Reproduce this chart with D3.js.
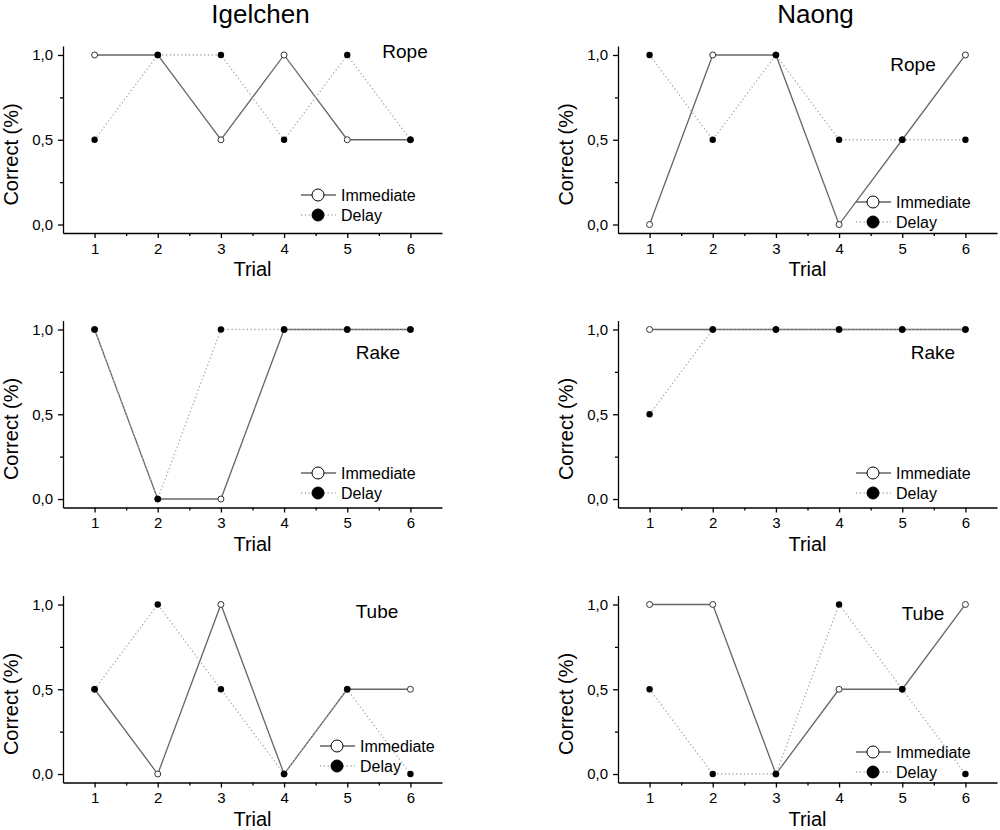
<!DOCTYPE html>
<html lang="en">
<head>
<meta charset="UTF-8">
<title>Correct (%) by trial</title>
<script src="https://d3js.org/d3.v7.min.js"></script>
<style>
  body { margin: 0; background: #fff; }
  svg { display: block; font-family: Arial, "Liberation Sans", sans-serif; }
  .axis path, .axis line { stroke: #000; stroke-width: 1.3; }
  .axis text { font-size: 15px; fill: #000; font-family: Arial, "Liberation Sans", sans-serif; }
</style>
</head>
<body>
<div id="chart"></div>
<script>
// --- data ---
const subjects = ["Igelchen", "Naong"];
const tools = ["Rope", "Rake", "Tube"];
const trials = [1, 2, 3, 4, 5, 6];
const seriesNames = ["Immediate", "Delay"];
const yTicks = [0, 0.5, 1];

// values per [subject][tool]
const immediate = {
  Igelchen: { Rope: [1, 1, 0.5, 1, 0.5, 0.5], Rake: [1, 0, 0, 1, 1, 1], Tube: [0.5, 0, 1, 0, 0.5, 0.5] },
  Naong:    { Rope: [0, 1, 1, 0, 0.5, 1],     Rake: [1, 1, 1, 1, 1, 1], Tube: [1, 1, 0, 0.5, 0.5, 1] }
};
const delay = {
  Igelchen: { Rope: [0.5, 1, 1, 0.5, 1, 0.5], Rake: [1, 0, 1, 1, 1, 1], Tube: [0.5, 1, 0.5, 0, 0.5, 0] },
  Naong:    { Rope: [1, 0.5, 1, 0.5, 0.5, 0.5], Rake: [0.5, 1, 1, 1, 1, 1], Tube: [0.5, 0, 0, 1, 0.5, 0] }
};

// --- layout ---
const width = 1000, height = 830;
const colX = [63, 618];          // left edge of each column's plot
const plotW = 379;
const rowTop = [46, 320.5, 595.5]; // top of each row's plot
const plotH = 187;
// label / legend offsets per [col][row], relative to plot left/top
const labelPos = [
  [{ x: 342, y: 12 }, { x: 315, y: 38.5 }, { x: 314, y: 22.5 }],
  [{ x: 295, y: 25 }, { x: 315, y: 38.5 }, { x: 305, y: 24.5 }]
];
const legendPos = [
  [{ x: 255, y: 149 }, { x: 255, y: 152.5 }, { x: 274, y: 150.5 }],
  [{ x: 255, y: 156 }, { x: 255, y: 152.5 }, { x: 255, y: 156.5 }]
];

const solidColor = "#666";
const dotColor = "#aaa";

const svg = d3.select("#chart").append("svg")
  .attr("width", width)
  .attr("height", height);

// column titles
subjects.forEach((s, ci) => {
  svg.append("text")
    .attr("x", colX[ci] + plotW / 2 + 8)
    .attr("y", 23)
    .attr("text-anchor", "middle")
    .attr("font-size", 26)
    .text(s);
});

subjects.forEach((subj, ci) => {
  tools.forEach((tool, ri) => {
    const g = svg.append("g")
      .attr("transform", `translate(${colX[ci]},${rowTop[ri]})`);

    const x = d3.scaleLinear().domain([0.5, 6.5]).range([0, plotW]);
    const y = d3.scaleLinear().domain([-0.05, 1.053]).range([plotH, 0]);

    // x axis: major at trials, minor at halves
    g.append("g")
      .attr("class", "axis")
      .attr("transform", `translate(0,${plotH})`)
      .call(d3.axisBottom(x).tickValues(trials).tickSize(5).tickSizeOuter(0).tickPadding(5).tickFormat(d3.format("d")));
    g.append("g")
      .attr("class", "axis")
      .attr("transform", `translate(0,${plotH})`)
      .call(d3.axisBottom(x).tickValues(d3.range(1.5, 6.5, 1)).tickSize(3).tickSizeOuter(0).tickFormat(""))
      .select(".domain").remove();

    // y axis
    const fmt = d => d3.format(".1f")(d).replace(".", ",");
    g.append("g")
      .attr("class", "axis")
      .call(d3.axisLeft(y).tickValues(yTicks).tickSize(5).tickSizeOuter(0).tickPadding(5).tickFormat(fmt));
    g.append("g")
      .attr("class", "axis")
      .call(d3.axisLeft(y).tickValues([0.25, 0.75]).tickSize(3).tickSizeOuter(0).tickFormat(""))
      .select(".domain").remove();

    // axis titles
    g.append("text")
      .attr("transform", `translate(-52,${plotH / 2 + 15}) rotate(-90)`)
      .attr("text-anchor", "middle")
      .attr("dy", "0.35em")
      .attr("font-size", 20)
      .text("Correct (%)");
    g.append("text")
      .attr("x", plotW / 2)
      .attr("y", plotH + 43)
      .attr("text-anchor", "middle")
      .attr("font-size", 20)
      .text("Trial");

    // panel label
    const lp = labelPos[ci][ri];
    g.append("text")
      .attr("x", lp.x)
      .attr("y", lp.y)
      .attr("text-anchor", "middle")
      .attr("font-size", 19)
      .text(tool);

    const line = d3.line()
      .x((d, i) => x(trials[i]))
      .y(d => y(d));

    const imm = immediate[subj][tool];
    const del = delay[subj][tool];

    g.append("path")
      .datum(imm)
      .attr("d", line)
      .attr("fill", "none")
      .attr("stroke", solidColor)
      .attr("stroke-width", 1.3);
    g.append("path")
      .datum(del)
      .attr("d", line)
      .attr("fill", "none")
      .attr("stroke", dotColor)
      .attr("stroke-width", 1.3)
      .attr("stroke-dasharray", "1.3,2.5");

    g.selectAll(".imm").data(imm).join("circle")
      .attr("class", "imm")
      .attr("cx", (d, i) => x(trials[i]))
      .attr("cy", d => y(d))
      .attr("r", 3)
      .attr("fill", "#fff")
      .attr("stroke", "#333")
      .attr("stroke-width", 1);
    g.selectAll(".del").data(del).join("circle")
      .attr("class", "del")
      .attr("cx", (d, i) => x(trials[i]))
      .attr("cy", d => y(d))
      .attr("r", 3.2)
      .attr("fill", "#000");

    // legend
    const lg = legendPos[ci][ri];
    const leg = g.append("g").attr("transform", `translate(${lg.x},${lg.y})`);
    seriesNames.forEach((name, k) => {
      const row = leg.append("g").attr("transform", `translate(0,${k * 20})`);
      row.append("line")
        .attr("x1", -17).attr("x2", 18)
        .attr("stroke", k === 0 ? solidColor : dotColor)
        .attr("stroke-width", 1.3)
        .attr("stroke-dasharray", k === 0 ? null : "1.3,2.5");
      row.append("circle")
        .attr("r", 6)
        .attr("fill", k === 0 ? "#fff" : "#000")
        .attr("stroke", "#000")
        .attr("stroke-width", 1);
      row.append("text")
        .attr("x", 23)
        .attr("dy", "0.35em")
        .attr("font-size", 16)
        .text(name);
    });
  });
});
</script>
</body>
</html>
